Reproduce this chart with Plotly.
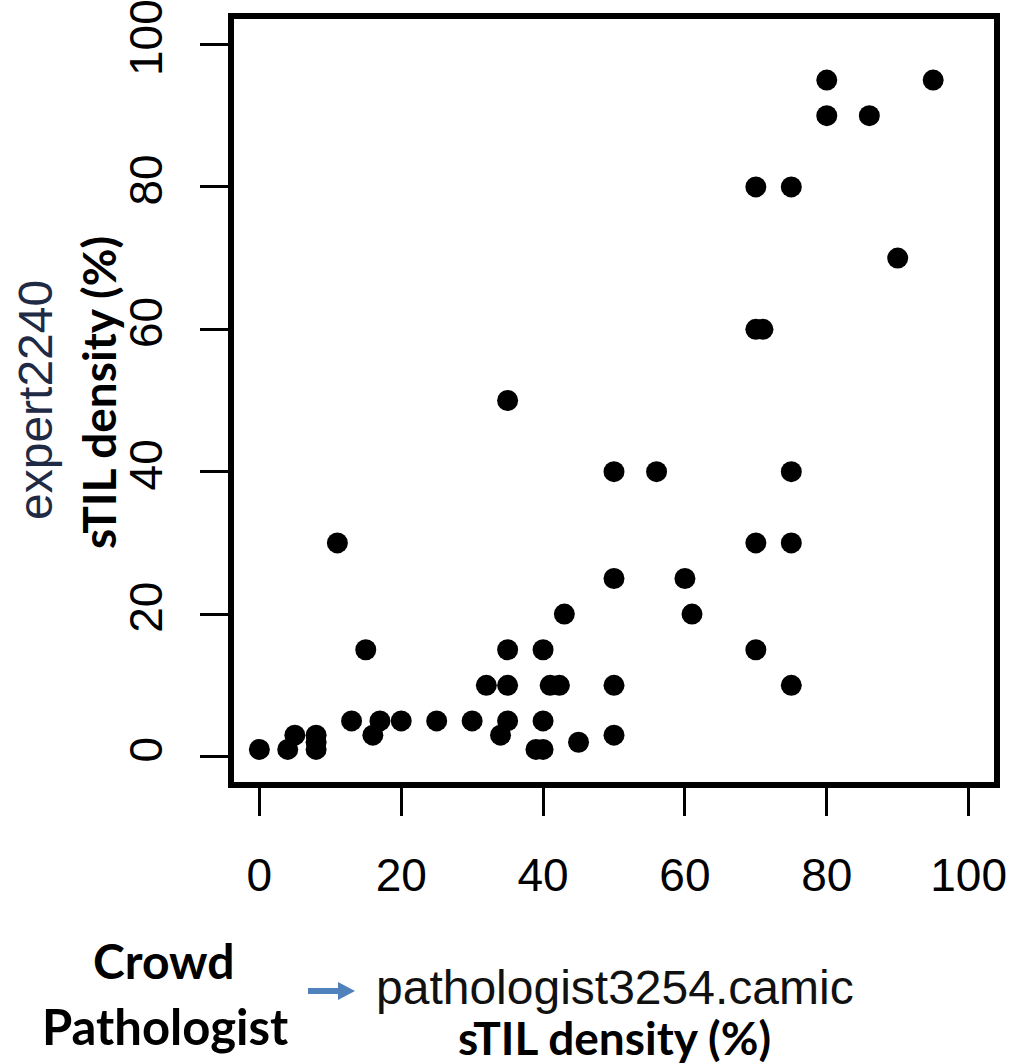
import plotly.graph_objects as go

# Crowd pathologist vs expert sTIL density scores (%)
crowd_scores = [0, 4, 5, 8, 8, 8, 11, 13, 15, 16, 17, 20, 25, 30, 32, 34, 35, 35, 35, 35,
                39, 40, 40, 40, 41, 42.3, 43, 45, 50, 50, 50, 50, 56, 60, 61, 70, 70, 70,
                71, 70, 75, 75, 75, 75, 80, 80, 86, 90, 95]
expert_scores = [1, 1, 3, 1, 2, 3, 30, 5, 15, 3, 5, 5, 5, 5, 10, 3, 5, 10, 15, 50,
                 1, 1, 5, 15, 10, 10, 20, 2, 3, 10, 25, 40, 40, 25, 20, 15, 30, 60,
                 60, 80, 10, 30, 40, 80, 90, 95, 90, 70, 95]
tick_values = [0, 20, 40, 60, 80, 100]
tick_labels = ["0", "20", "40", "60", "80", "100"]

W, H = 1013, 1064
L, R, T, B = 231, 16, 16, 279
PW, PH = W - L - R, H - T - B


def px(x):
    return (x - L) / PW


def py(y):
    return (H - B - y) / PH


ARIAL = "Liberation Sans, Arial, sans-serif"
BOLD = "Lato, Carlito, Calibri, sans-serif"

fig = go.Figure()
fig.add_trace(go.Scatter(
    x=crowd_scores, y=expert_scores, mode="markers",
    marker=dict(size=21, color="black", line=dict(width=0)),
    showlegend=False, hoverinfo="skip",
))

axis_common = dict(
    tickmode="array", tickvals=tick_values, ticktext=tick_labels,
    ticks="outside", ticklen=30, tickwidth=2.5, tickcolor="black",
    showgrid=False, zeroline=False, showline=False,
    tickfont=dict(family=ARIAL, size=46, color="black"),
    ticklabeloverflow="allow", automargin=False,
    range=[-4, 104],
)
fig.update_xaxes(**axis_common, ticklabelstandoff=20)
fig.update_yaxes(**axis_common, tickangle=-90, ticklabelstandoff=20)

shapes = [
    # plot frame
    dict(type="rect", xref="paper", yref="paper", x0=0, x1=1, y0=0, y1=1,
         line=dict(color="black", width=6), fillcolor="rgba(0,0,0,0)", layer="above"),
    # blue arrow pointing at the x-axis label
    dict(type="path", xref="paper", yref="paper",
         path=(f"M {px(308)},{py(988)} L {px(338)},{py(988)} L {px(338)},{py(982)} "
               f"L {px(355)},{py(991)} L {px(338)},{py(1000)} L {px(338)},{py(994)} "
               f"L {px(308)},{py(994)} Z"),
         line=dict(width=0), fillcolor="#4F81BD"),
]

annotations = [
    dict(text="expert2240", x=px(36), y=py(400), textangle=-90,
         font=dict(family=ARIAL, size=48, color="#1F2A44")),
    dict(text="<b>sTIL density (%)</b>", x=px(98), y=py(393), textangle=-90,
         font=dict(family=BOLD, size=46, color="black")),
    dict(text="<b>Crowd</b>", x=px(163), y=py(960),
         font=dict(family=BOLD, size=48, color="black")),
    dict(text="<b>Pathologist</b>", x=px(165), y=py(1026),
         font=dict(family=BOLD, size=49, color="black")),
    dict(text="pathologist3254.camic", x=px(615), y=py(987),
         font=dict(family=ARIAL, size=48, color="#111111")),
    dict(text="<b>sTIL density (%)</b>", x=px(614), y=py(1037),
         font=dict(family=BOLD, size=46, color="black")),
]
for a in annotations:
    a.update(xref="paper", yref="paper", xanchor="center", yanchor="middle",
             showarrow=False)

fig.update_layout(
    width=W, height=H,
    margin=dict(l=L, r=R, t=T, b=B, pad=0, autoexpand=False),
    paper_bgcolor="white", plot_bgcolor="white",
    shapes=shapes, annotations=annotations,
)

fig.write_html("out.html")
